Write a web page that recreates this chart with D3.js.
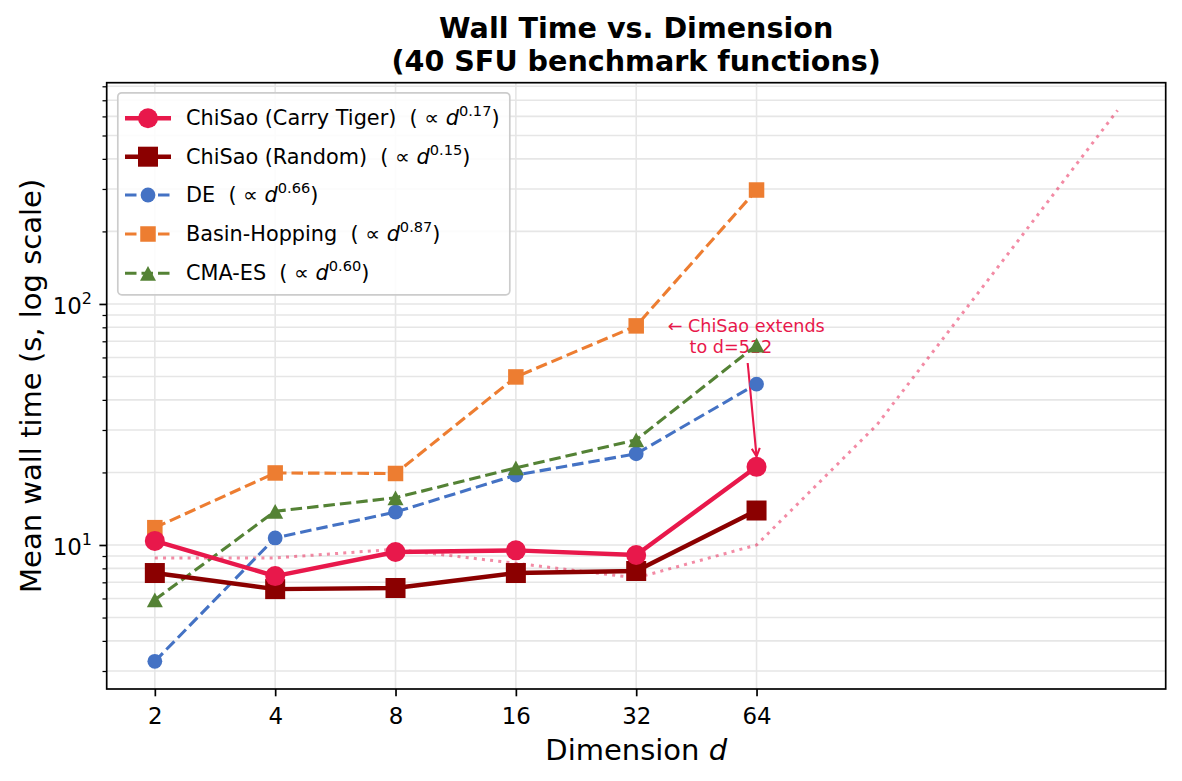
<!DOCTYPE html>
<html><head><meta charset="utf-8">
<script src="https://cdn.jsdelivr.net/npm/d3@7"></script>
<style>
body{margin:0;background:#fff;}
svg{font-family:"DejaVu Sans",sans-serif;display:block;}
</style></head><body>
<svg id="c" width="1182" height="781"></svg>
<script>
// ---------- data ----------
const dims = [2, 4, 8, 16, 32, 64];
const extDims = [2, 4, 8, 16, 32, 64, 128, 256, 512];
const chisaoCarryTiger = [10.4, 7.43, 9.35, 9.5, 9.09, 21.1];
const chisaoRandom = [7.65, 6.56, 6.63, 7.65, 7.8, 13.9];
const deTimes = [3.29, 10.7, 13.7, 19.5, 23.9, 46.5];
const basinHopping = [11.8, 19.9, 19.8, 49.8, 81.1, 297];
const cmaEs = [5.92, 13.8, 15.7, 20.9, 27.3, 67.5];
const chisaoExtended = [8.84, 8.84, 9.6, 8.4, 7.3, 10.0, 31.5, 141, 636];
const seriesNames = ["ChiSao (Carry Tiger)", "ChiSao (Random)", "DE", "Basin-Hopping", "CMA-ES"];
const exponents = ["0.17", "0.15", "0.66", "0.87", "0.60"];
const xTickLabels = ["2", "4", "8", "16", "32", "64"];
const titleLines = ["Wall Time vs. Dimension", "(40 SFU benchmark functions)"];
const annotLines = ["\u2190 ChiSao extends", "to d=512"];

// ---------- styles ----------
const styles = [
  {color:"#e8184b", width:4.4, dash:null, marker:"circle", size:20},
  {color:"#8b0000", width:4.4, dash:null, marker:"square", size:20},
  {color:"#4472c4", width:3.1, dash:"11.5 5", marker:"circle", size:14.8},
  {color:"#ed7d31", width:3.1, dash:"11.5 5", marker:"square", size:15.5},
  {color:"#548235", width:3.1, dash:"11.5 5", marker:"triangle", size:16}
];
const seriesValues = [chisaoCarryTiger, chisaoRandom, deTimes, basinHopping, cmaEs];

const svg = d3.select("#c");
const M = {left:106.7, right:1165.7, top:82.7, bottom:689};
const x = d3.scaleLog().base(2).domain([2**0.6, 2**9.4]).range([M.left, M.right]);
const y = d3.scaleLog().base(10).domain([10**0.4025, 10**2.918]).range([M.bottom, M.top]);

const gridColor = "#e6e6e6";
// grid
const yTicksAll = y.ticks();
svg.append("g").selectAll("line").data(yTicksAll).join("line")
  .attr("x1", M.left).attr("x2", M.right)
  .attr("y1", d => y(d)).attr("y2", d => y(d))
  .attr("stroke", gridColor).attr("stroke-width", 1.6);
svg.append("g").selectAll("line").data(dims).join("line")
  .attr("x1", d => x(d)).attr("x2", d => x(d))
  .attr("y1", M.top).attr("y2", M.bottom)
  .attr("stroke", gridColor).attr("stroke-width", 1.6);

// dotted extension
const ext = extDims.map((d, i) => ({d, v: chisaoExtended[i]}));
const line = d3.line().x(p => x(p.d)).y(p => y(p.v));
svg.append("path").datum(ext).attr("d", line)
  .attr("fill", "none").attr("stroke", "#e8184b").attr("stroke-opacity", 0.5)
  .attr("stroke-width", 3).attr("stroke-dasharray", "3 5.2");

// annotation
const annot = svg.append("g").attr("fill", "#e8184b").attr("font-size", 17.6);
annot.append("text").attr("x", 667.7).attr("y", 331.7).text(annotLines[0]);
annot.append("text").attr("x", 689.5).attr("y", 352.7).text(annotLines[1]);
// arrow to ChiSao d=64 point
const ax1 = 747.7, ay1 = 363;
const ax2 = x(dims[5]), ay2 = y(chisaoCarryTiger[5]) - 10.5;
svg.append("line").attr("x1", ax1).attr("y1", ay1).attr("x2", ax2).attr("y2", ay2)
  .attr("stroke", "#e8184b").attr("stroke-width", 2.1);
{
  const ang = Math.atan2(ay2 - ay1, ax2 - ax1);
  const hl = 8, hw = 4;
  const bx = ax2 - hl*Math.cos(ang), by = ay2 - hl*Math.sin(ang);
  const px = -Math.sin(ang)*hw, py = Math.cos(ang)*hw;
  svg.append("path").attr("d", `M${bx+px},${by+py}L${ax2},${ay2}L${bx-px},${by-py}`)
    .attr("fill", "none").attr("stroke", "#e8184b").attr("stroke-width", 2.1);
}

function drawMarker(g, type, cx, cy, s, color) {
  if (type === "circle") {
    g.append("circle").attr("cx", cx).attr("cy", cy).attr("r", s/2).attr("fill", color);
  } else if (type === "square") {
    g.append("rect").attr("x", cx - s/2).attr("y", cy - s/2).attr("width", s).attr("height", s).attr("fill", color);
  } else {
    const h = s*0.92;
    g.append("path").attr("d", `M${cx},${cy-h/2}L${cx+s/2},${cy+h/2}L${cx-s/2},${cy+h/2}Z`).attr("fill", color);
  }
}

// series: dashed ones first, ChiSao on top
const order = [2, 3, 4, 1, 0];
order.forEach(i => {
  const st = styles[i];
  const pts = dims.map((d, k) => ({d, v: seriesValues[i][k]}));
  const g = svg.append("g");
  g.append("path").datum(pts).attr("d", line).attr("fill", "none")
    .attr("stroke", st.color).attr("stroke-width", st.width)
    .attr("stroke-dasharray", st.dash).attr("stroke-linejoin", "round");
  pts.forEach(p => drawMarker(g, st.marker, x(p.d), y(p.v), st.size, st.color));
});

// frame
svg.append("rect").attr("x", M.left).attr("y", M.top)
  .attr("width", M.right - M.left).attr("height", M.bottom - M.top)
  .attr("fill", "none").attr("stroke", "#000").attr("stroke-width", 1.7);

// x axis
const xAxis = d3.axisBottom(x).tickValues(dims).tickFormat((d, i) => xTickLabels[i])
  .tickSizeInner(7.3).tickSizeOuter(0).tickPadding(5);
const gx = svg.append("g").attr("transform", `translate(0,${M.bottom})`).call(xAxis);
gx.select(".domain").remove();
gx.selectAll(".tick line").attr("stroke", "#000").attr("stroke-width", 1.7);
gx.selectAll(".tick text").attr("font-size", 22.9).attr("fill", "#000")
  .attr("font-family", "DejaVu Sans").attr("dy", null).attr("y", 35);

// y axis minor / major
const yMinor = yTicksAll.filter(d => Math.abs(Math.log10(d) - Math.round(Math.log10(d))) > 1e-9);
const yMajor = yTicksAll.filter(d => Math.abs(Math.log10(d) - Math.round(Math.log10(d))) <= 1e-9);
const gyMinor = svg.append("g").attr("transform", `translate(${M.left},0)`)
  .call(d3.axisLeft(y).tickValues(yMinor).tickFormat("").tickSizeInner(4.2).tickSizeOuter(0));
gyMinor.select(".domain").remove();
gyMinor.selectAll(".tick line").attr("stroke", "#000").attr("stroke-width", 1.25);
const gyMajor = svg.append("g").attr("transform", `translate(${M.left},0)`)
  .call(d3.axisLeft(y).tickValues(yMajor).tickFormat("").tickSizeInner(7.3).tickSizeOuter(0));
gyMajor.select(".domain").remove();
gyMajor.selectAll(".tick line").attr("stroke", "#000").attr("stroke-width", 1.7);
yMajor.forEach(v => {
  const t = svg.append("text").attr("x", 92).attr("y", y(v) + 10)
    .attr("text-anchor", "end").attr("font-size", 22.9).attr("fill", "#000");
  t.append("tspan").text("10");
  t.append("tspan").attr("font-size", 16).attr("dy", -9.5).text(String(Math.round(Math.log10(v))));
});

// axis labels
const xl = svg.append("text").attr("x", (M.left + M.right)/2).attr("y", 760)
  .attr("text-anchor", "middle").attr("font-size", 29).attr("fill", "#000");
xl.append("tspan").text("Dimension ");
xl.append("tspan").attr("font-style", "italic").text("d");
svg.append("text").attr("transform", `translate(41,${(M.top + M.bottom)/2}) rotate(-90)`)
  .attr("text-anchor", "middle").attr("font-size", 29).attr("fill", "#000")
  .text("Mean wall time (s, log scale)");

// title
titleLines.forEach((t, i) => {
  svg.append("text").attr("x", (M.left + M.right)/2).attr("y", 38 + i*33)
    .attr("text-anchor", "middle").attr("font-size", 28.6).attr("font-weight", "bold")
    .attr("fill", "#000").text(t);
});

// legend
const lg = svg.append("g");
lg.append("rect").attr("x", 117.8).attr("y", 92.8).attr("width", 392).attr("height", 202)
  .attr("rx", 4).attr("fill", "#fff").attr("fill-opacity", 0.85)
  .attr("stroke", "#cccccc").attr("stroke-width", 1.7);
const rowY = [118.3, 156.7, 195, 234, 273.3];
seriesNames.forEach((name, i) => {
  const st = styles[i];
  const cy = rowY[i];
  lg.append("line").attr("x1", 125).attr("x2", 171).attr("y1", cy).attr("y2", cy)
    .attr("stroke", st.color).attr("stroke-width", st.width)
    .attr("stroke-dasharray", st.dash);
  drawMarker(lg, st.marker, 148, cy, st.size, st.color);
  const t = lg.append("text").attr("x", 186).attr("y", cy + 7).attr("font-size", 20.8)
    .attr("fill", "#000").style("white-space", "pre");
  t.append("tspan").text(name + "  ( \u221d ");
  t.append("tspan").attr("font-style", "italic").text("d");
  t.append("tspan").attr("font-size", 14.6).attr("dy", -9).text(exponents[i]);
  t.append("tspan").attr("dy", 9).text(")");
});
</script>
</body></html>
